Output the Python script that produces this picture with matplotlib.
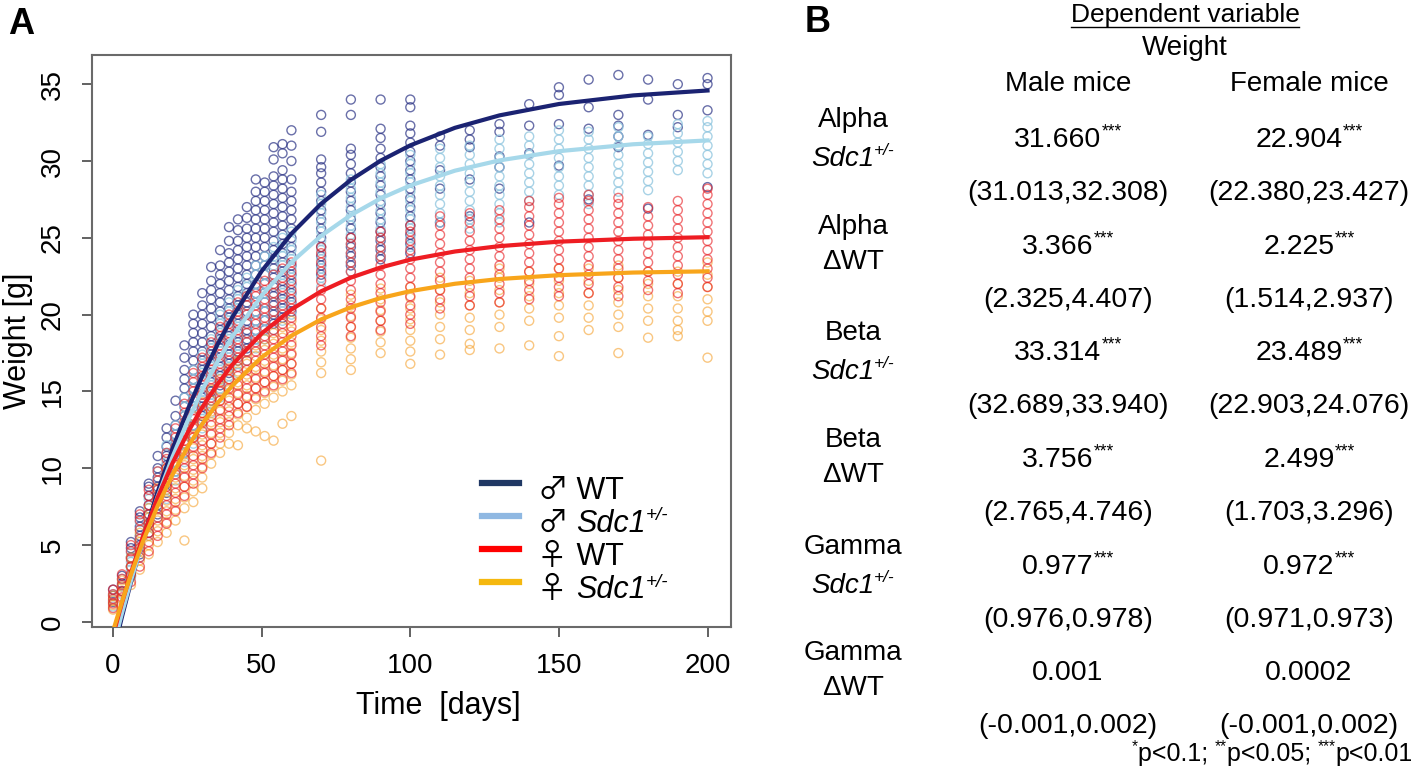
import matplotlib
matplotlib.use('Agg')
import matplotlib.pyplot as plt
from matplotlib.lines import Line2D
from matplotlib.transforms import IdentityTransform

plt.rcParams['font.family'] = ['Liberation Sans', 'DejaVu Sans']

# measurement days (columns of circles)
days = [0, 3, 6, 9, 12, 15, 18, 21, 24, 27, 30, 33, 36, 39, 42, 45, 48, 51, 54, 57, 60,
        70, 80, 90, 100, 110, 120, 130, 140, 150, 160, 170, 180, 190, 200]

male_wt = [
    "1.3 1.7 2.1", "2.0 2.5 3.0", "3.0 3.6 4.2 4.8 5.2", "4.4 5.0 5.6 6.2 6.8 7.2",
    "5.8 6.4 7.0 7.6 8.2 8.8 9.0", "7.0 7.6 8.2 8.8 9.4 10.0 10.8",
    "8.4 9.0 9.6 10.2 10.8 11.4 12.0 12.6", "9.8 10.4 11.0 11.6 12.2 12.8 13.4 14.4",
    "11.0 11.6 12.2 12.8 13.4 14.0 14.6 15.2 15.8 16.4 17.2 18.0",
    "12.2 12.8 13.4 14.0 14.6 15.2 15.8 16.4 17.0 17.6 18.2 18.8 19.4 20.0",
    "13.4 14.0 14.6 15.2 15.8 16.4 17.0 17.6 18.2 18.8 19.4 20.0 20.6 21.4",
    "14.4 15.0 15.6 16.2 16.8 17.4 18.0 18.6 19.2 19.8 20.4 21.0 21.6 22.2 23.1",
    "15.4 16.0 16.6 17.2 17.8 18.4 19.0 19.6 20.2 20.8 21.4 22.0 22.6 23.2 24.2",
    "16.2 16.8 17.4 18.0 18.6 19.2 19.8 20.4 21.0 21.6 22.2 22.8 23.4 24.0 24.8 25.7",
    "17.0 17.6 18.2 18.8 19.4 20.0 20.6 21.2 21.8 22.4 23.0 23.6 24.2 24.8 25.5 26.2",
    "17.8 18.4 19.0 19.6 20.2 20.8 21.4 22.0 22.6 23.2 23.8 24.4 25.0 25.6 26.3 27.0",
    "18.4 19.0 19.6 20.2 20.8 21.4 22.0 22.6 23.2 23.8 24.4 25.0 25.6 26.2 26.8 27.4 28.0 28.8",
    "19.0 19.6 20.2 20.8 21.4 22.0 22.6 23.2 23.8 24.4 25.0 25.6 26.2 26.8 27.4 28.0 28.6",
    "19.4 20.0 20.6 21.2 21.8 22.4 23.0 23.6 24.2 24.8 25.4 26.0 26.6 27.2 27.8 28.4 29.0 30.1 30.9",
    "19.8 20.4 21.0 21.6 22.2 22.8 23.4 24.0 24.6 25.2 25.8 26.4 27.0 27.6 28.2 28.8 29.4 30.5 31.1",
    "20.2 20.8 21.4 22.0 22.6 23.2 23.8 24.4 25.0 25.6 26.2 26.8 27.4 28.0 28.8 30.0 31.0 32.0",
    "22.6 23.2 23.8 24.4 25.0 25.6 26.2 26.8 27.4 28.0 28.6 29.2 29.6 30.1 31.9 33.0",
    "23.2 23.8 24.4 25.0 25.6 26.2 26.8 27.4 28.0 28.6 29.2 29.8 30.4 30.8 33.0 34.0",
    "23.6 24.2 24.8 25.4 26.0 26.6 27.2 27.8 28.4 29.0 29.6 30.2 30.8 31.5 32.1 34.0",
    "24.0 24.6 25.2 25.8 26.4 27.0 27.6 28.2 28.8 29.4 30.0 30.6 31.2 31.8 32.3 33.5 34.0",
    "26.0 28.2 29.4 31.0 31.6", "26.4 28.8 30.9 31.4 32.0", "28.2 29.6 30.3 31.9 32.4",
    "26.0 30.5 32.3 33.7", "29.7 32.4 34.3 34.8", "27.5 32.1 33.5 35.3",
    "30.9 31.6 32.3 33.0 35.6", "26.9 31.7 34.0 35.3", "32.2 33.0 35.0", "28.3 33.3 35.0 35.4",
]
male_sdc1 = [
    "1.0 1.4 1.8", "1.8 2.3 2.8", "2.9 3.4 3.9 4.5", "4.2 4.8 5.4 6.0 6.5",
    "5.6 6.2 6.8 7.4 8.0", "6.8 7.4 8.0 8.6 9.2 9.8", "8.0 8.6 9.2 9.8 10.4 11.0 11.5",
    "9.2 9.8 10.4 11.0 11.6 12.2 12.8", "10.4 11.0 11.6 12.2 12.8 13.4 14.0 14.6",
    "11.6 12.2 12.8 13.4 14.0 14.6 15.2 15.8 16.4",
    "12.6 13.2 13.8 14.4 15.0 15.6 16.2 16.8 17.4",
    "13.6 14.2 14.8 15.4 16.0 16.6 17.2 17.8 18.4",
    "14.6 15.2 15.8 16.4 17.0 17.6 18.2 18.8 19.4 20.0",
    "15.4 16.0 16.6 17.2 17.8 18.4 19.0 19.6 20.2 20.8",
    "16.2 16.8 17.4 18.0 18.6 19.2 19.8 20.4 21.0 21.6",
    "17.0 17.6 18.2 18.8 19.4 20.0 20.6 21.2 21.8 22.4",
    "17.8 18.4 19.0 19.6 20.2 20.8 21.4 22.0 22.6 23.2",
    "18.4 19.0 19.6 20.2 20.8 21.4 22.0 22.6 23.2 23.8",
    "19.0 19.6 20.2 20.8 21.4 22.0 22.6 23.2 23.8 24.4",
    "19.6 20.2 20.8 21.4 22.0 22.6 23.2 23.8 24.4 25.0",
    "20.0 20.6 21.2 21.8 22.4 23.0 23.6 24.2 24.8 25.4",
    "21.8 22.4 23.0 23.6 24.2 24.8 25.4 26.0 26.6 27.2 27.8",
    "22.8 23.4 24.0 24.6 25.2 25.8 26.4 27.0 27.6 28.2 28.8",
    "23.8 24.4 25.0 25.6 26.2 26.8 27.4 28.0 28.6 29.2 29.8",
    "24.4 25.0 25.6 26.2 26.8 27.4 28.0 28.6 29.2 29.8 30.4",
    "26.0 26.6 27.2 27.8 28.4 29.0 29.6 30.2 30.8",
    "25.6 26.2 26.8 27.4 28.0 28.6 29.2 29.8 30.4 31.0",
    "26.0 26.6 27.2 27.8 28.4 29.0 29.6 30.2 30.8 31.4",
    "27.4 28.0 28.6 29.2 29.8 30.4 31.0 31.6",
    "27.8 28.4 29.0 29.6 30.2 30.8 31.4 32.0",
    "27.2 27.8 28.4 29.0 29.6 30.2 30.8 31.4 31.9",
    "28.0 28.6 29.2 29.8 30.4 31.0 31.6 32.2",
    "28.1 28.7 29.3 29.9 30.5 31.1 31.6",
    "29.4 30.0 30.6 31.2 31.8 32.4",
    "29.2 29.8 30.4 31.0 31.6 32.2 32.6",
]
female_wt = [
    "0.9 1.2 1.5 1.8 2.1", "1.6 2.0 2.4 2.8 3.1", "2.6 3.1 3.6 4.1 4.6 5.0",
    "3.6 4.2 4.8 5.4 6.0 6.6 7.0", "4.6 5.2 5.8 6.4 7.0 7.6 8.2 8.6",
    "5.6 6.2 6.8 7.4 8.0 8.6 9.2 9.8", "6.4 7.0 7.6 8.2 8.8 9.4 10.0 10.6 11.0",
    "7.2 7.8 8.4 9.0 9.6 10.2 10.8 11.4 12.0 12.6",
    "8.2 8.8 9.4 10.0 10.6 11.2 11.8 12.4 13.0 13.6 14.2",
    "9.0 9.6 10.2 10.8 11.4 12.0 12.6 13.2 13.8 14.4 15.0 15.6 16.2",
    "10.0 10.6 11.2 11.8 12.4 13.0 13.6 14.2 14.8 15.4 16.0 16.6 17.2",
    "11.0 11.6 12.2 12.8 13.4 14.0 14.6 15.2 15.8 16.4 17.0 17.6 18.2",
    "12.0 12.6 13.2 13.8 14.4 15.0 15.6 16.2 16.8 17.4 18.0 18.6 19.2",
    "12.8 13.4 14.0 14.6 15.2 15.8 16.4 17.0 17.6 18.2 18.8 19.4 20.0",
    "13.6 14.2 14.8 15.4 16.0 16.6 17.2 17.8 18.4 19.0 19.6 20.2 20.8",
    "14.0 14.6 15.2 15.8 16.4 17.0 17.6 18.2 18.8 19.4 20.0 20.6 21.2",
    "14.6 15.2 15.8 16.4 17.0 17.6 18.2 18.8 19.4 20.0 20.6 21.2 21.8",
    "15.0 15.6 16.2 16.8 17.4 18.0 18.6 19.2 19.8 20.4 21.0 21.6 22.2",
    "15.4 16.0 16.6 17.2 17.8 18.4 19.0 19.6 20.2 20.8 21.4 22.0 22.6",
    "15.8 16.4 17.0 17.6 18.2 18.8 19.4 20.0 20.6 21.2 21.8 22.4 23.0",
    "16.2 16.8 17.4 18.0 18.6 19.2 19.8 20.4 21.0 21.6 22.2 22.8 23.4",
    "18.0 18.6 19.2 19.8 20.4 21.0 21.6 22.2 22.8 23.4 24.0 24.4",
    "18.6 19.2 19.8 20.4 21.0 21.6 22.2 22.8 23.4 24.0 24.6 25.0",
    "19.0 19.6 20.2 20.8 21.4 22.0 22.6 23.2 23.8 24.4 25.0 25.4",
    "19.4 20.0 20.6 21.2 21.8 22.4 23.0 23.6 24.2 24.8 25.4 25.8",
    "20.4 21.0 21.6 22.2 22.8 23.4 24.0 24.6 25.2 25.8 26.4",
    "20.6 21.2 21.8 22.4 23.0 23.6 24.2 24.8 25.4 26.0 26.6",
    "20.8 21.4 22.0 22.6 23.2 23.8 24.4 25.0 25.6 26.2 26.8",
    "21.0 21.6 22.2 22.8 23.4 24.0 24.6 25.2 25.8 26.4 27.0 27.4",
    "21.2 21.8 22.4 23.0 23.6 24.2 24.8 25.4 26.0 26.6 27.2 27.6",
    "21.4 22.0 22.6 23.2 23.8 24.4 25.0 25.6 26.2 26.8 27.4 27.8",
    "21.2 21.8 22.4 23.0 23.6 24.2 24.8 25.4 26.0 26.6 27.2 27.6",
    "21.6 22.2 22.8 23.4 24.0 24.6 25.2 25.8 26.4 27.0",
    "21.4 22.0 22.6 23.2 23.8 24.4 25.0 25.6 26.2 26.8 27.4",
    "21.8 22.4 23.0 23.6 24.2 24.8 25.4 26.0 26.6 27.2 27.8 28.2",
]
female_sdc1 = [
    "0.8 1.1 1.4 1.7", "1.5 1.9 2.3 2.7", "2.4 3.0 3.6 4.2", "3.4 4.0 4.6 5.2 5.8",
    "4.4 5.0 5.6 6.2 6.8 7.4", "5.2 5.9 6.6 7.3 8.0 8.7", "5.8 6.5 7.2 7.9 8.6 9.3 10.0",
    "6.6 7.3 8.0 8.7 9.4 10.1 10.8", "5.3 7.4 8.1 8.8 9.5 10.2 10.9 11.6 12.2",
    "7.8 8.5 9.2 9.9 10.6 11.3 12.0 12.7 13.4", "8.7 9.4 10.1 10.8 11.5 12.2 12.9 13.6 14.3",
    "10.3 10.9 11.6 12.3 13.0 13.7 14.4 15.1", "11.0 11.6 12.3 13.0 13.7 14.4 15.1 15.8",
    "11.6 12.3 13.0 13.7 14.4 15.1 15.8 16.5", "11.5 12.8 13.5 14.2 14.9 15.6 16.3 17.0",
    "12.6 13.3 14.0 14.7 15.4 16.1 16.8 17.5", "12.4 13.8 14.5 15.2 15.9 16.6 17.3 18.0",
    "12.1 14.2 14.9 15.6 16.3 17.0 17.7 18.4", "11.8 14.6 15.3 16.0 16.7 17.4 18.1 18.8",
    "12.9 15.0 15.7 16.4 17.1 17.8 18.5 19.2", "13.4 15.4 16.1 16.8 17.5 18.2 18.9 19.6",
    "10.5 16.2 16.9 17.6 18.3 19.0 19.7 20.4", "16.4 17.1 17.8 18.5 19.2 19.9 20.6 21.3",
    "17.5 18.2 18.9 19.6 20.3 21.0 21.7", "16.8 17.6 18.3 19.0 19.7 20.4 21.1 21.8",
    "17.4 18.4 19.2 20.0 20.8 21.6 22.4", "17.7 18.1 19.0 19.8 20.6 21.4 22.2",
    "17.8 19.2 20.0 20.8 21.6 22.4 23.0", "18.0 19.6 20.4 21.2 22.0 22.8",
    "17.3 18.6 19.8 20.6 21.4 22.2 23.0", "19.0 19.8 20.6 21.4 22.2 23.0",
    "17.5 19.2 20.0 20.8 21.6 22.4 23.2", "18.5 19.6 20.4 21.2 22.0 22.8",
    "18.6 19.0 19.6 20.4 21.2 22.0 22.8", "17.2 19.6 20.2 21.0 21.8 22.6 23.4",
]

# fitted growth curves, read at these days
curve_days = [0, 3, 6, 10, 15, 20, 25, 30, 35, 40, 50, 60, 70, 80, 90, 100, 115, 130, 150, 175, 200]
male_wt_fit = [-2.04, 0.35, 2.59, 5.35, 8.47, 11.27, 13.77, 16.01, 18.01, 19.80, 22.84, 25.27,
               27.22, 28.77, 30.02, 31.02, 32.16, 32.97, 33.71, 34.27, 34.59]
male_sdc1_fit = [-1.65, 0.59, 2.69, 5.26, 8.16, 10.74, 13.04, 15.09, 16.91, 18.53, 21.25, 23.41,
                 25.13, 26.48, 27.56, 28.41, 29.37, 30.04, 30.64, 31.09, 31.34]
female_wt_fit = [-0.86, 1.25, 3.19, 5.53, 8.10, 10.34, 12.29, 13.97, 15.44, 16.72, 18.78, 20.34,
                 21.52, 22.41, 23.07, 23.58, 24.11, 24.46, 24.75, 24.94, 25.04]
female_sdc1_fit = [-0.59, 1.33, 3.09, 5.22, 7.56, 9.59, 11.36, 12.88, 14.21, 15.36, 17.23, 18.63,
                   19.69, 20.48, 21.08, 21.53, 22.01, 22.32, 22.57, 22.74, 22.82]

# legend
legend_sym = ['\u2642', '\u2642', '\u2640', '\u2640']
legend_gen = ['WT', 'Sdc1', 'WT', 'Sdc1']

# table (panel B)
row_param = ['Alpha', 'Alpha', 'Beta', 'Beta', 'Gamma', 'Gamma']
row_term = ['sdc', 'dwt', 'sdc', 'dwt', 'sdc', 'dwt']
male_est = ['31.660', '3.366', '33.314', '3.756', '0.977', '0.001']
female_est = ['22.904', '2.225', '23.489', '2.499', '0.972', '0.0002']
stars = ['***', '***', '***', '***', '***', '']
male_ci = ['(31.013,32.308)', '(2.325,4.407)', '(32.689,33.940)', '(2.765,4.746)',
           '(0.976,0.978)', '(-0.001,0.002)']
female_ci = ['(22.380,23.427)', '(1.514,2.937)', '(22.903,24.076)', '(1.703,3.296)',
             '(0.971,0.973)', '(-0.001,0.002)']

W, H = 1418, 777
fig = plt.figure(figsize=(W / 100, H / 100), dpi=100)
rend = fig.canvas.get_renderer()
ident = IdentityTransform()


def fx(px):
    return px / W


def fy(py):
    return 1 - py / H


def rich_text(x, y, parts, size, ha='center'):
    # parts: (text, kind); kind n normal, i italic, s / si superscript, g gender sign
    # x, y in picture pixels, y is the vertical centre of the capitals
    em = size * 100 / 72.0
    base = (H - y) - 0.36 * em
    objs, widths = [], []
    for s, kind in parts:
        sup = kind.startswith('s')
        fs = size * 0.62 if sup else size
        st = 'italic' if kind.endswith('i') else 'normal'
        fam = ['Noto Sans CJK JP', 'DejaVu Sans'] if kind == 'g' else ['Liberation Sans', 'DejaVu Sans']
        t = fig.text(0, 0, s, transform=ident, fontsize=fs, fontstyle=st, family=fam,
                     ha='left', va='baseline')
        objs.append((t, sup))
        widths.append(t.get_window_extent(rend).width)
    total = sum(widths)
    left = x - total / 2 if ha == 'center' else (x - total if ha == 'right' else x)
    for (t, sup), w in zip(objs, widths):
        t.set_position((left, base + (0.38 * em if sup else 0)))
        left += w
    return objs


ax = fig.add_axes([fx(92), fy(627), fx(731) - fx(92), fy(55) - fy(627)])

groups = [
    (male_wt, (0.17, 0.2, 0.52, 0.7)),
    (male_sdc1, (0.55, 0.77, 0.87, 0.75)),
    (female_sdc1, (0.96, 0.63, 0.18, 0.6)),
    (female_wt, (0.91, 0.12, 0.14, 0.62)),
]
for cols, col in groups:
    xs, ys = [], []
    for d, s in zip(days, cols):
        vals = [float(v) for v in s.split()]
        xs += [d] * len(vals)
        ys += vals
    ax.scatter(xs, ys, s=42, facecolors='none', edgecolors=[col], linewidths=1.0, zorder=2)

ax.plot(curve_days, male_wt_fit, color='#1b2372', lw=3, zorder=3)
ax.plot(curve_days, male_sdc1_fit, color='#a6d8ea', lw=3, zorder=3)
ax.plot(curve_days, female_wt_fit, color='#ee1d23', lw=3, zorder=3)
ax.plot(curve_days, female_sdc1_fit, color='#f8a51b', lw=3, zorder=3)

ax.set_xlim(-7.1, 207.9)
ax.set_ylim(-0.33, 36.9)
ax.set_xticks([0, 50, 100, 150, 200])
ax.set_yticks([0, 5, 10, 15, 20, 25, 30, 35])
for sp in ax.spines.values():
    sp.set_color('#6a6a6a')
    sp.set_linewidth(1.5)
ax.tick_params(axis='both', colors='#555555', labelcolor='black', labelsize=20,
               length=7, width=1.3)
ax.tick_params(axis='y', labelrotation=90, pad=12)
ax.tick_params(axis='x', pad=12)
for lab in ax.get_yticklabels():
    lab.set_va('center')

fig.text(fx(438), fy(706), 'Time  [days]', ha='center', va='center', fontsize=22)
fig.text(fx(18), fy(341), 'Weight [g]', ha='center', va='center', rotation=90, fontsize=22)
fig.text(fx(8), fy(25), 'A', ha='left', va='center', fontsize=26, fontweight='bold')

# legend: the library places the swatches, the labels are written over them
handles = [Line2D([], [], color=c, lw=4.5) for c in ['#203864', '#8fb8e2', '#ff0000', '#f5b80f']]
leg = ax.legend(handles, [s + ' ' + g for s, g in zip(legend_sym, legend_gen)],
                loc='upper left', bbox_to_anchor=(fx(482), fy(471)),
                bbox_transform=fig.transFigure, frameon=False, fontsize=22,
                borderpad=0, borderaxespad=0, labelspacing=0.1,
                handlelength=1.2, handletextpad=0.6)

# panel B
fig.text(fx(805), fy(23), 'B', ha='left', va='center', fontsize=26, fontweight='bold')
head = fig.text(fx(1185), fy(15), 'Dependent variable', ha='center', va='center', fontsize=19)
fig.text(fx(1185), fy(48), 'Weight', ha='center', va='center', fontsize=20)
fig.text(fx(1068), fy(84), 'Male mice', ha='center', va='center', fontsize=20)
fig.text(fx(1309), fy(84), 'Female mice', ha='center', va='center', fontsize=20)

row_top = [120, 227, 333, 440, 547, 653]
for i in range(6):
    y0 = row_top[i]
    fig.text(fx(853), fy(y0), row_param[i], ha='center', va='center', fontsize=20)
    if row_term[i] == 'sdc':
        rich_text(853, y0 + 36, [('Sdc1', 'i'), ('+/-', 'si')], 20)
    else:
        fig.text(fx(853), fy(y0 + 35), '\u0394WT', ha='center', va='center', fontsize=20)
    rich_text(1068, y0 + 17, [(male_est[i], 'n'), (stars[i], 's')], 20.5)
    rich_text(1309, y0 + 17, [(female_est[i], 'n'), (stars[i], 's')], 20.5)
    fig.text(fx(1068), fy(y0 + 73), male_ci[i], ha='center', va='center', fontsize=20.5)
    fig.text(fx(1309), fy(y0 + 73), female_ci[i], ha='center', va='center', fontsize=20.5)

rich_text(1413, 752, [('*', 's'), ('p<0.1; ', 'n'), ('**', 's'), ('p<0.05; ', 'n'),
                      ('***', 's'), ('p<0.01', 'n')], 18, ha='right')

fig.canvas.draw()
bb = head.get_window_extent(rend)
fig.add_artist(Line2D([bb.x0, bb.x1], [bb.y0, bb.y0], transform=ident, color='black', lw=1))
for i, t in enumerate(leg.get_texts()):
    tb = t.get_window_extent(rend)
    t.set_visible(False)
    ycen = H - (tb.y0 + tb.y1) / 2 + 2
    if legend_gen[i] == 'WT':
        parts = [(legend_sym[i], 'g'), (' WT', 'n')]
    else:
        parts = [(legend_sym[i], 'g'), (' ', 'n'), ('Sdc1', 'i'), ('+/-', 'si')]
    rich_text(tb.x0, ycen, parts, 22, ha='left')

fig.savefig('out.png', dpi=100)
